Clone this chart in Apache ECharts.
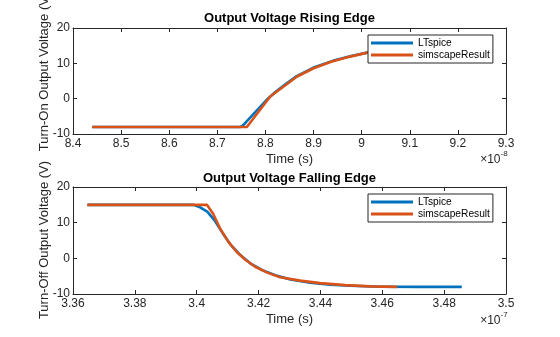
<!DOCTYPE html>
<html>
<head>
<meta charset="utf-8">
<script src="https://cdn.jsdelivr.net/npm/echarts@6/dist/echarts.min.js"></script>
<style>
  html, body { margin: 0; padding: 0; background: #fff; }
  #chart { width: 560px; height: 337px; }
</style>
</head>
<body>
<div id="chart"></div>
<script>
// Turn-on (rising) edge — time in units of 1e-8 s, voltage in V
const riseLtT  = [8.44, 8.748, 8.753, 8.76, 8.775, 8.79, 8.805, 8.82, 8.84, 8.865, 8.90, 8.94, 8.976, 9.014, 9.06];
const riseLtV  = [-8, -8, -7.6, -6.6, -4.4, -2.2, 0, 1.8, 3.9, 6.4, 8.8, 10.7, 12.0, 13.1, 13.9];
const riseSimT = [8.44, 8.7614, 8.81, 8.865, 8.90, 8.938, 8.976, 9.014, 9.06];
const riseSimV = [-8, -8, 0.6, 6.2, 8.6, 10.5, 11.9, 13.1, 13.9];

// Turn-off (falling) edge — time in units of 1e-7 s, voltage in V
const fallLtT  = [3.3647, 3.3989, 3.4011, 3.4034, 3.4057, 3.4083, 3.4108, 3.4141, 3.4173, 3.4212, 3.4254, 3.4303, 3.4367, 3.4431, 3.4496, 3.4593, 3.4722, 3.4857];
const fallLtV  = [15, 15, 14.3, 13.1, 10.7, 7.2, 4.0, 0.9, -1.4, -3.3, -4.75, -5.95, -6.85, -7.4, -7.7, -7.95, -8, -8];
const fallSimT = [3.3646, 3.4033, 3.4053, 3.4076, 3.4102, 3.4128, 3.4157, 3.4189, 3.4228, 3.4270, 3.4334, 3.4399, 3.4480, 3.4561, 3.4648];
const fallSimV = [15, 15, 12.5, 8.3, 4.7, 1.9, -0.4, -2.35, -4.0, -5.3, -6.25, -6.95, -7.5, -7.85, -8];

// Axis ranges and tick steps
const riseX = { min: 8.4, max: 9.3, step: 0.1, exp: '-8' };
const fallX = { min: 3.36, max: 3.5, step: 0.02, exp: '-7' };
const voltY = { min: -10, max: 20, step: 10 };

const seriesNames = ['LTspice', 'simscapeResult'];
const titles = ['Output Voltage Rising Edge', 'Output Voltage Falling Edge'];
const yNames = ['Turn-On Output Voltage (V)', 'Turn-Off Output Voltage (V)'];
const xName = 'Time (s)';

const FONT = '"Liberation Sans", Arial, Helvetica, sans-serif';
const INK = '#262626';
const BLUE = '#0072BD';
const ORANGE = '#D95319';

const zip = (t, v) => t.map((x, i) => [x, v[i]]);

const grids = [
  { left: 73, top: 28, width: 433, height: 106 },
  { left: 73, top: 187, width: 433, height: 107 }
];

function xAxes(gi, r, decimals) {
  const base = {
    type: 'value', gridIndex: gi, min: r.min, max: r.max, interval: r.step,
    axisLine: { onZero: false, lineStyle: { color: INK, width: 1 } },
    axisTick: { inside: true, length: 4, lineStyle: { color: INK, width: 1 } },
    splitLine: { show: false }
  };
  return [
    Object.assign({}, base, {
      position: 'bottom',
      axisLabel: {
        margin: 4, color: INK, fontSize: 12, fontFamily: FONT,
        formatter: v => String(+v.toFixed(decimals))
      },
      name: xName, nameLocation: 'middle', nameGap: 19,
      nameTextStyle: { color: INK, fontSize: 13, fontFamily: FONT }
    }),
    Object.assign({}, base, { position: 'top', axisLabel: { show: false } })
  ];
}

function yAxes(gi) {
  const base = {
    type: 'value', gridIndex: gi, min: voltY.min, max: voltY.max, interval: voltY.step,
    axisLine: { onZero: false, lineStyle: { color: INK, width: 1 } },
    axisTick: { inside: true, length: 4, lineStyle: { color: INK, width: 1 } },
    splitLine: { show: false }
  };
  return [
    Object.assign({}, base, {
      position: 'left',
      axisLabel: { margin: 3, color: INK, fontSize: 12, fontFamily: FONT }
    }),
    Object.assign({}, base, { position: 'right', axisLabel: { show: false } })
  ];
}

function lineSeries(name, color, data, axisIdx) {
  return {
    type: 'line', name: name, data: data,
    xAxisIndex: axisIdx, yAxisIndex: axisIdx,
    showSymbol: false, symbol: 'none', smooth: false, clip: true,
    lineStyle: { color: color, width: 2.6 }, itemStyle: { color: color },
    emphasis: { disabled: true }, animation: false, z: 2
  };
}

function legendAt(top) {
  return {
    data: seriesNames, orient: 'vertical', left: 368, top: top,
    icon: 'rect', itemWidth: 42, itemHeight: 3, itemGap: 0,
    padding: [2, 3, 2, 3],
    backgroundColor: '#fff', borderColor: INK, borderWidth: 1, borderRadius: 0,
    textStyle: { color: '#000', fontSize: 10.2, fontFamily: FONT, lineHeight: 12 },
    selectedMode: false, z: 10
  };
}

function label(text, x, y, size, weight, color, align, rotation) {
  return {
    type: 'text', x: x, y: y, z: 20, rotation: rotation || 0,
    style: {
      text: text, fill: color, fontSize: size, fontWeight: weight, fontFamily: FONT,
      textAlign: align, textVerticalAlign: 'middle'
    }
  };
}

const chart = echarts.init(document.getElementById('chart'), null, { renderer: 'canvas' });

chart.setOption({
  animation: false,
  backgroundColor: '#fff',
  grid: grids,
  xAxis: [...xAxes(0, riseX, 1), ...xAxes(1, fallX, 2)],
  yAxis: [...yAxes(0), ...yAxes(1)],
  legend: [legendAt(35), legendAt(194)],
  series: [
    lineSeries(seriesNames[0], BLUE, zip(riseLtT, riseLtV), 0),
    lineSeries(seriesNames[1], ORANGE, zip(riseSimT, riseSimV), 0),
    lineSeries(seriesNames[0], BLUE, zip(fallLtT, fallLtV), 2),
    lineSeries(seriesNames[1], ORANGE, zip(fallSimT, fallSimV), 2)
  ],
  graphic: [
    label(titles[0], 289.5, 18, 13, 'bold', '#000', 'center'),
    label(titles[1], 289.5, 178, 13, 'bold', '#000', 'center'),
    // vertical axis titles, reading bottom to top
    label(yNames[0], 44, 72, 13, 'normal', INK, 'center', Math.PI / 2),
    label(yNames[1], 44, 240, 13, 'normal', INK, 'center', Math.PI / 2),
    // axis exponent markers: "×10" with a raised power
    label('×10', 500.5, 160, 12, 'normal', INK, 'right'),
    label(riseX.exp, 500.5, 154, 8, 'normal', INK, 'left'),
    label('×10', 500.5, 321, 12, 'normal', INK, 'right'),
    label(fallX.exp, 500.5, 315, 8, 'normal', INK, 'left')
  ]
});
</script>
</body>
</html>
